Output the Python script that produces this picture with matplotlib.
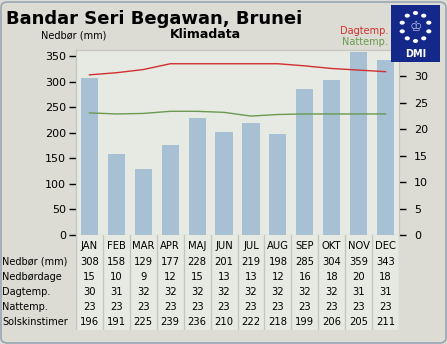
import numpy as np
import matplotlib
matplotlib.use("Agg")
import matplotlib.pyplot as plt
from matplotlib.patches import FancyBboxPatch, Rectangle

months = ["JAN", "FEB", "MAR", "APR", "MAJ", "JUN", "JUL", "AUG", "SEP", "OKT", "NOV", "DEC"]
precip = [308, 158, 129, 177, 228, 201, 219, 198, 285, 304, 359, 343]
rain_days = [15, 10, 9, 12, 15, 13, 13, 12, 16, 18, 20, 18]
day_temp = [30, 31, 32, 32, 32, 32, 32, 32, 32, 32, 31, 31]
night_temp = [23, 23, 23, 23, 23, 23, 23, 23, 23, 23, 23, 23]
sun_hours = [196, 191, 225, 239, 236, 210, 222, 218, 199, 206, 205, 211]
# line values (more precise than the table)
day_curve = [30.3, 30.7, 31.3, 32.4, 32.4, 32.4, 32.4, 32.4, 32.0, 31.5, 31.2, 30.9]
night_curve = [23.1, 22.9, 23.0, 23.4, 23.4, 23.2, 22.5, 22.8, 22.9, 22.9, 22.9, 22.9]
row_labels = ["Nedbør (mm)", "Nedbørdage", "Dagtemp.", "Nattemp.", "Solskinstimer"]

W, H = 447, 344
bg = "#dcdcd4"
axbg = "#e7e9e3"
fig = plt.figure(figsize=(W / 100, H / 100), dpi=100, facecolor=bg)

def fx(px):
    return px / W

def fy(py):
    return 1 - py / H

# rounded border
fig.patches.append(FancyBboxPatch((fx(1), fy(343)), fx(445), 342 / H - 0.003,
                                  boxstyle="round,pad=0,rounding_size=0.015",
                                  transform=fig.transFigure, fc=bg, ec="#9aa6b4", lw=1.2,
                                  zorder=-10))

x0, x1, ytop, ybot = 76, 399, 50, 235
ax = fig.add_axes([fx(x0), fy(ybot), fx(x1 - x0), (ybot - ytop) / H])
ax.set_facecolor(axbg)
x = np.arange(12)
ax.bar(x, precip, width=0.64, color="#a8c0d4", zorder=2)
ax.set_xlim(-0.5, 11.5)
ax.set_ylim(0, 362)
ax.set_yticks(range(0, 351, 50))
ax.set_xticks([])
ax.tick_params(axis="y", labelsize=8, length=5, width=1, pad=2)
for s in ax.spines.values():
    s.set_color("#c4c6bf")

ax2 = ax.twinx()
ax2.plot(x, day_curve, color="#d03030", lw=1, zorder=3)
ax2.plot(x, night_curve, color="#6a9a50", lw=1, zorder=3)
ax2.set_ylim(0, 35)
ax2.set_yticks(range(0, 31, 5))
ax2.tick_params(axis="y", labelsize=8, length=5, width=1, pad=6)
for s in ax2.spines.values():
    s.set_color("#c4c6bf")

# table below the chart
tbot = 330
tab = fig.add_axes([fx(x0), fy(tbot), fx(x1 - x0), (tbot - ybot) / H])
tab.set_facecolor(axbg)
tab.set_xlim(-0.5, 11.5)
tab.set_ylim(tbot, ybot)
tab.set_xticks([])
tab.set_yticks([])
for s in tab.spines.values():
    s.set_visible(False)
for i in range(13):
    tab.axvline(i - 0.5, color="#c4c6bf", lw=1)
rows = [precip, rain_days, day_temp, night_temp, sun_hours]
for i, m in enumerate(months):
    tab.text(i, 246, m, ha="center", va="center", fontsize=7.2)
    for r, vals in enumerate(rows):
        tab.text(i, 262 + 15 * r, str(vals[i]), ha="center", va="center", fontsize=7.2)
for r, lab in enumerate(row_labels):
    fig.text(fx(2), fy(262 + 15 * r), lab, ha="left", va="center", fontsize=7)

# titles
fig.text(fx(6), fy(19), "Bandar Seri Begawan, Brunei", fontsize=13, fontweight="bold",
         ha="left", va="center")
fig.text(fx(205), fy(35), "Klimadata", fontsize=9, fontweight="bold", ha="center", va="center")
fig.text(fx(74), fy(36), "Nedbør (mm)", fontsize=7, ha="center", va="center")
fig.text(fx(388), fy(31), "Dagtemp.", fontsize=7, color="#d03030", ha="right", va="center")
fig.text(fx(388), fy(42), "Nattemp.", fontsize=7, color="#6a9a50", ha="right", va="center")
fig.text(fx(392), fy(38), "°C", fontsize=7, ha="left", va="center")

# DMI logo
fig.patches.append(Rectangle((fx(391), fy(62)), fx(49), 57 / H, transform=fig.transFigure,
                             fc="#14288a", ec="none", zorder=5))
cx, cy, rr = 415.5, 27, 14
for k in range(10):
    a = 2 * np.pi * k / 10
    fig.patches.append(plt.Circle((fx(cx + rr * np.sin(a)), fy(cy - rr * np.cos(a))), 2.6 / W,
                                  transform=fig.transFigure, fc="white", ec="none", zorder=6))
fig.text(fx(cx), fy(cy), "♔", fontsize=10, color="#b0b8e0", ha="center", va="center", zorder=7)
fig.text(fx(cx), fy(54), "DMI", fontsize=7, fontweight="bold", color="white",
         ha="center", va="center", zorder=7)

fig.savefig("out.png", dpi=100, facecolor=bg)
